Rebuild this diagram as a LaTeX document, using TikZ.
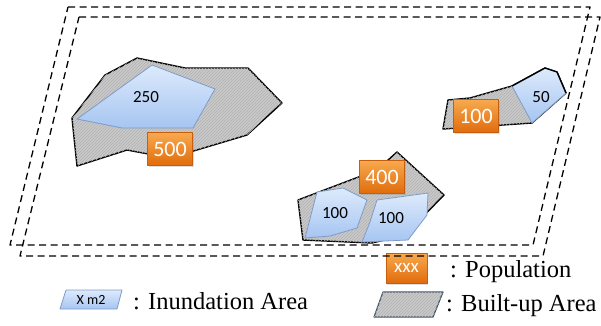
\documentclass[tikz,border=0pt]{standalone}
\usepackage{fontspec}
\setmainfont{Liberation Serif}
\newfontfamily\numfont{Carlito}
\usetikzlibrary{patterns,shadows}

\definecolor{builtgray}{HTML}{C9C9C9}
\definecolor{builthatch}{HTML}{B2B2B2}
\definecolor{floodtop}{HTML}{DDEAFC}
\definecolor{floodbot}{HTML}{A6C5F1}
\definecolor{flooddraw}{HTML}{7F9CC8}
\definecolor{poptop}{HTML}{F8A94E}
\definecolor{popbot}{HTML}{E06C0C}
\definecolor{popdraw}{HTML}{C65E0E}
\definecolor{keydraw}{HTML}{44546A}

\begin{document}
\begin{tikzpicture}[x=1pt,y=-1pt,line join=round,
  zone/.style={line width=1.3pt,dash pattern=on 7pt off 4.5pt},
  built/.style={draw=black,line width=1.4pt,fill=builtgray,
    postaction={pattern=north east lines,pattern color=builthatch}},
  flood/.style={draw=flooddraw,line width=0.8pt,top color=floodtop,bottom color=floodbot},
  pop/.style={draw=popdraw,line width=0.6pt,top color=poptop,bottom color=popbot,
    text=white,minimum width=45pt,minimum height=33pt,inner sep=0pt,
    drop shadow={opacity=0.25,shadow xshift=1pt,shadow yshift=-1.5pt},
    font=\numfont\fontsize{22}{22}\selectfont},
  area/.style={font=\numfont\fontsize{17}{17}\selectfont},
  key/.style={font=\fontsize{24.5}{27}\selectfont,anchor=base west,inner sep=0pt}]

\useasboundingbox (0,0) rectangle (601,325);

%left area
\draw[built] (137,58) -- (185,68) -- (248,68) -- (282,103) -- (247,135) -- (170,158)
  -- (127,150) -- (77,166) -- (72,118) -- (105,75) -- cycle;
\draw[flood] (152,65) -- (215,89) -- (193,128) -- (122,128) -- (77,119) -- cycle;
\node[area] (I250) at (146,97) {250};
\node[pop] (P500) at (170,149) {500};

%right area
\draw[built] (443,129) -- (448,100) -- (470,98) -- (512,86) -- (545,68) -- (557,72)
  -- (566,93) -- (532,123) -- cycle;
\draw[flood] (512,86) -- (545,68) -- (557,72) -- (566,93) -- (532,123) -- cycle;
\draw[line width=1.4pt] (512,86) -- (545,68) -- (557,72) -- (566,93);
\node[area] (I50) at (541,97) {50};
\node[pop] (P100) at (476,116) {100};

%middle area
\draw[built] (298,200) -- (377,170) -- (397,152) -- (444,195) -- (405,235) -- (372,243)
  -- (303,240) -- cycle;
\draw[flood] (317,192) -- (343,188) -- (367,200) -- (357,228) -- (330,236) -- (305,238) -- cycle;
\draw[flood] (377,200) -- (428,193) -- (427,215) -- (408,240) -- (362,242) -- (370,222) -- cycle;
\node[area] (I100a) at (335,213) {100};
\node[area] (I100b) at (391,218) {100};
\node[pop] (P400) at (382,177) {400};

%legend
\node[pop,minimum width=41pt,minimum height=30pt,font=\numfont\fontsize{19}{19}\selectfont]
  (Pkey) at (406.5,268) {xxx};
\node[key] (Lpop) at (450,277) {: Population};
\draw[flood] (66,290) -- (122,290) -- (117,309) -- (60,309) -- cycle;
\node[font=\numfont\fontsize{14}{14}\selectfont] (Ikey) at (91,299.5) {X m2};
\node[key] (Lflood) at (133,309) {: Inundation Area};
\draw[built,draw=keydraw,line width=1.2pt] (383,292) -- (443,292) -- (433,317) -- (374,317) -- cycle;
\node[key] (Lbuilt) at (446,311) {: Built-up Area};

%study zones
\draw[zone] (68,7) -- (590,7) -- (533,245) -- (10,245) -- cycle;
\draw[zone] (79,17) -- (600,17) -- (543,256) -- (20,256) -- cycle;
\end{tikzpicture}
\end{document}
